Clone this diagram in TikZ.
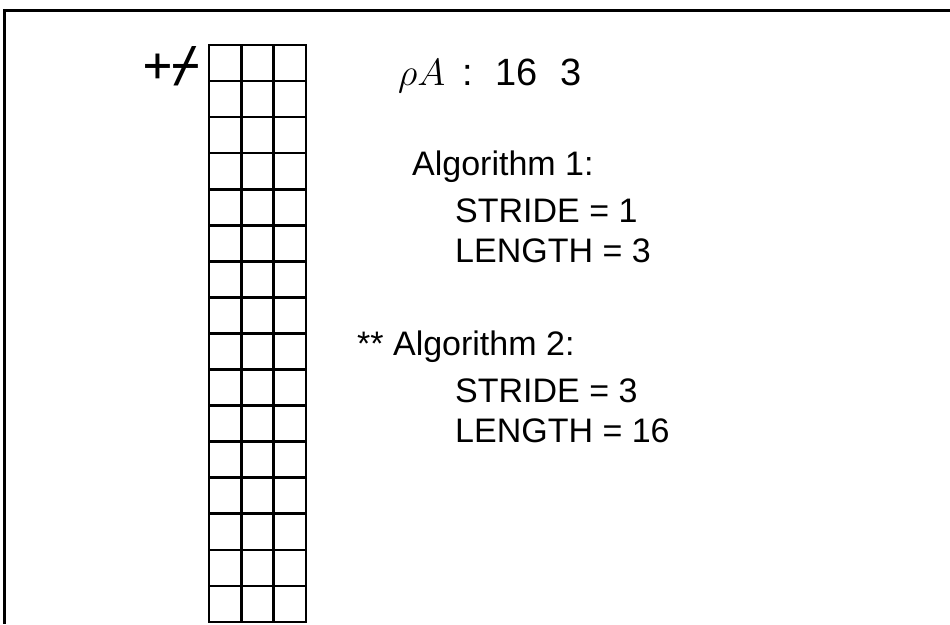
\RequirePackage{fix-cm}
\documentclass[tikz,border=0pt]{standalone}
\usepackage{fontspec}
\setmainfont{Liberation Sans}
\newfontfamily\aplfont{DejaVu Sans Mono}
\begin{document}
\begin{tikzpicture}[x=1pt,y=-1pt,
  frame/.style={line width=3pt},
  gridline/.style={line width=2.6pt, line cap=rect},
  lbl/.style={anchor=base west, inner sep=0pt, font=\fontsize{34}{34}\selectfont},
  hdr/.style={anchor=base west, inner sep=0pt, font=\fontsize{38}{38}\selectfont}]
\useasboundingbox (0,0) rectangle (950,624);
% frame: top and left edges only
\coordinate (tl) at (4,10);
\coordinate (tr) at (950,10);
\coordinate (bl) at (4,624);
\draw[frame] (tr) -- (tl) -- (bl);
% grid 3 x 16
\foreach \i in {0,...,3} {
  \coordinate (top\i) at ({209+\i*32.33},45);
  \coordinate (bot\i) at ({209+\i*32.33},622);
  \draw[gridline] (top\i) -- (bot\i);
}
\foreach \j in {0,...,16} {
  \coordinate (lft\j) at (209,{45+\j*36.06});
  \coordinate (rgt\j) at (306,{45+\j*36.06});
  \draw[gridline] (lft\j) -- (rgt\j);
}
% reduce symbol
\node[anchor=east, inner sep=0pt, font=\aplfont\fontsize{48}{48}\selectfont] (red) at (201,66) {+⌿};
% header
\node[hdr] (rho) at (398,85) {$\rho A$};
\node[hdr] (colon) at (462,85) {:};
\node[hdr] (n16) at (495,85) {16};
\node[hdr] (n3) at (560,85) {3};
\node[lbl] (alg1) at (412,175) {Algorithm 1:};
\node[lbl] (s1) at (455,222) {STRIDE = 1};
\node[lbl] (l1) at (455,262) {LENGTH = 3};
\node[lbl] (alg2) at (357,355) {** Algorithm 2:};
\node[lbl] (s2) at (455,402) {STRIDE = 3};
\node[lbl] (l2) at (455,442) {LENGTH = 16};
\end{tikzpicture}
\end{document}
